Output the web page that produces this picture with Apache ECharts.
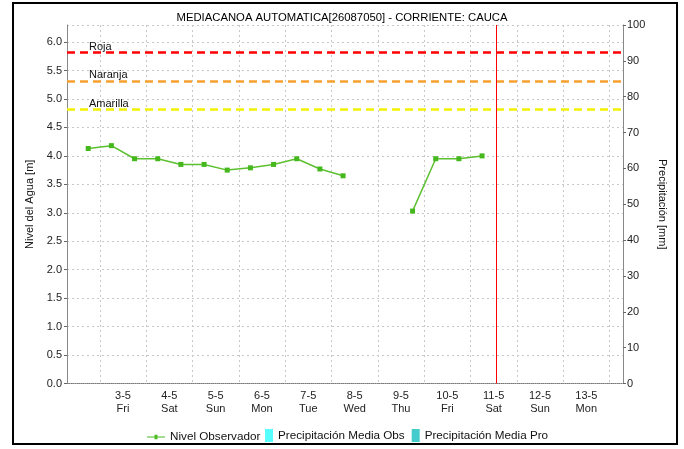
<!DOCTYPE html>
<html>
<head>
<meta charset="utf-8">
<script src="https://cdn.jsdelivr.net/npm/echarts@6/dist/echarts.min.js"></script>
<style>
  html, body { margin: 0; padding: 0; background: #fff; }
  #chart { width: 684px; height: 449px; }
</style>
</head>
<body>
<div id="chart"></div>
<script>
// Observer readings (local time), water level in metres
const obsTimes = [
  '2024-05-02 18:00', '2024-05-03 06:00', '2024-05-03 18:00', '2024-05-04 06:00',
  '2024-05-04 18:00', '2024-05-05 06:00', '2024-05-05 18:00', '2024-05-06 06:00',
  '2024-05-06 18:00', '2024-05-07 06:00', '2024-05-07 18:00', '2024-05-08 06:00',
  '2024-05-08 18:00', '2024-05-09 06:00', '2024-05-09 18:00', '2024-05-10 06:00',
  '2024-05-10 18:00', '2024-05-11 06:00'
];
const obsLevel = [4.13, 4.18, 3.95, 3.95, 3.85, 3.85, 3.75, 3.79, 3.85, 3.95, 3.77, 3.65,
                  null, null, 3.03, 3.95, 3.95, 4.00];

// Precipitation series (no values in this window)
const precipObs = [];
const precipPro = [];

// Alert thresholds [m]
const alertNames = ['Roja', 'Naranja', 'Amarilla'];
const alertLevels = [5.82, 5.32, 4.82];
const alertColors = ['#ff0000', '#f5a030', '#f2f200'];

// Time window and "now" marker
const axisStart = '2024-05-02 07:00';
const axisEnd = '2024-05-14 07:00';
const nowTime = '2024-05-11 13:15';

// Day boundaries (grid) and mid-day label positions
const dayBoundaries = ['2024-05-03', '2024-05-04', '2024-05-05', '2024-05-06', '2024-05-07', '2024-05-08',
                       '2024-05-09', '2024-05-10', '2024-05-11', '2024-05-12', '2024-05-13', '2024-05-14'];
const dayLabels = ['2024-05-03', '2024-05-04', '2024-05-05', '2024-05-06', '2024-05-07', '2024-05-08',
                   '2024-05-09', '2024-05-10', '2024-05-11', '2024-05-12', '2024-05-13'];
const weekdayNames = ['Sun', 'Mon', 'Tue', 'Wed', 'Thu', 'Fri', 'Sat'];

function ts(s) {
  const [d, t] = s.split(' ');
  const [y, m, dd] = d.split('-').map(Number);
  const [hh, mm] = (t || '00:00').split(':').map(Number);
  return Date.UTC(y, m - 1, dd, hh, mm);
}

const FONT = 'Liberation Sans, Arial, sans-serif';
const chart = echarts.init(document.getElementById('chart'), null, { renderer: 'canvas' });

const alertMarks = alertLevels.map((v, i) => ({
  yAxis: v,
  name: alertNames[i],
  lineStyle: { color: alertColors[i], type: [8, 5], width: 2.5 },
  label: {
    show: true,
    formatter: alertNames[i],
    position: 'insideStartTop',
    distance: [22, 0],
    color: '#111',
    fontFamily: FONT,
    fontSize: 11
  }
}));

const legendText = { fontFamily: FONT, fontSize: 11.7, color: '#111' };

chart.setOption({
  animation: false,
  backgroundColor: '#fff',
  title: {
    text: 'MEDIACANOA AUTOMATICA[26087050] - CORRIENTE: CAUCA',
    left: 'center',
    top: 7,
    textStyle: { fontFamily: FONT, fontSize: 11.3, fontWeight: 'normal', color: '#000' }
  },
  graphic: [{
    type: 'rect',
    shape: { x: 13, y: 3, width: 664, height: 441 },
    style: { fill: 'none', stroke: '#000', lineWidth: 2 },
    silent: true,
    z: 100
  }],
  legend: [{
    top: 431,
    left: 147,
    padding: 0,
    textStyle: legendText,
    data: [
      { name: 'Nivel Observador', icon: 'path://M0,5 L18,5 L18,6.2 L0,6.2 Z M7.5,3.3 L10.5,3.3 L10.5,7.9 L7.5,7.9 Z', itemStyle: { color: '#4dbb22' } }
    ],
    itemWidth: 18,
    itemHeight: 13
  }, {
    top: 429,
    left: 265,
    padding: 0,
    itemGap: 7,
    textStyle: legendText,
    data: [
      { name: 'Precipitación Media Obs', icon: 'rect' },
      { name: 'Precipitación Media Pro', icon: 'rect' }
    ],
    itemWidth: 8,
    itemHeight: 13
  }],
  grid: { left: 67, right: 61, top: 25, bottom: 65.5, containLabel: false },
  xAxis: {
    type: 'value',
    min: ts(axisStart),
    max: ts(axisEnd),
    axisLine: { show: true, lineStyle: { color: '#777', type: 'dotted', width: 1 } },
    axisTick: { show: false, customValues: dayBoundaries.map(d => ts(d)) },
    splitLine: { show: true, lineStyle: { color: '#c8c8c8', type: [2, 3], width: 1 } },
    axisLabel: {
      customValues: dayLabels.map(d => ts(d + ' 12:00')),
      fontFamily: FONT,
      fontSize: 11,
      color: '#222',
      lineHeight: 13,
      margin: 6,
      formatter: function (v) {
        const d = new Date(v);
        return d.getUTCDate() + '-' + (d.getUTCMonth() + 1) + '\n' + weekdayNames[d.getUTCDay()];
      }
    }
  },
  yAxis: [{
    type: 'value',
    min: 0,
    max: 6.3,
    interval: 0.5,
    name: 'Nivel del Agua [m]',
    nameLocation: 'middle',
    nameGap: 28,
    nameTextStyle: { fontFamily: FONT, fontSize: 11, color: '#111' },
    axisLine: { show: true, lineStyle: { color: '#888' } },
    axisTick: { show: true, length: 3, lineStyle: { color: '#666' } },
    axisLabel: {
      showMaxLabel: false,
      fontFamily: FONT, fontSize: 11, color: '#222', margin: 5,
      formatter: v => v.toFixed(1)
    },
    splitLine: { show: true, lineStyle: { color: '#c8c8c8', type: [2, 3] } }
  }, {
    type: 'value',
    min: 0,
    max: 100,
    interval: 10,
    name: 'Precipitación [mm]',
    nameLocation: 'middle',
    nameGap: 33,
    nameRotate: -90,
    nameTextStyle: { fontFamily: FONT, fontSize: 11, color: '#111' },
    axisLine: { show: true, lineStyle: { color: '#888' } },
    axisTick: { show: true, length: 3, lineStyle: { color: '#666' } },
    axisLabel: { fontFamily: FONT, fontSize: 11, color: '#222', margin: 4 },
    splitLine: { show: false }
  }],
  series: [{
    name: 'Nivel Observador',
    type: 'line',
    yAxisIndex: 0,
    data: obsTimes.map((t, i) => [ts(t), obsLevel[i]]),
    connectNulls: false,
    symbol: 'rect',
    symbolSize: 5,
    showAllSymbol: true,
    lineStyle: { color: '#5cc030', width: 1.5 },
    itemStyle: { color: '#44b81c' },
    markLine: {
      silent: true,
      symbol: 'none',
      animation: false,
      data: alertMarks.concat([{
        xAxis: ts(nowTime),
        lineStyle: { color: '#ff0000', type: 'solid', width: 1 },
        label: { show: false }
      }])
    },
    z: 5
  }, {
    name: 'Precipitación Media Obs',
    type: 'bar',
    yAxisIndex: 1,
    data: precipObs,
    itemStyle: { color: '#55ffff' }
  }, {
    name: 'Precipitación Media Pro',
    type: 'bar',
    yAxisIndex: 1,
    data: precipPro,
    itemStyle: { color: '#44cccc' }
  }]
});
</script>
</body>
</html>
